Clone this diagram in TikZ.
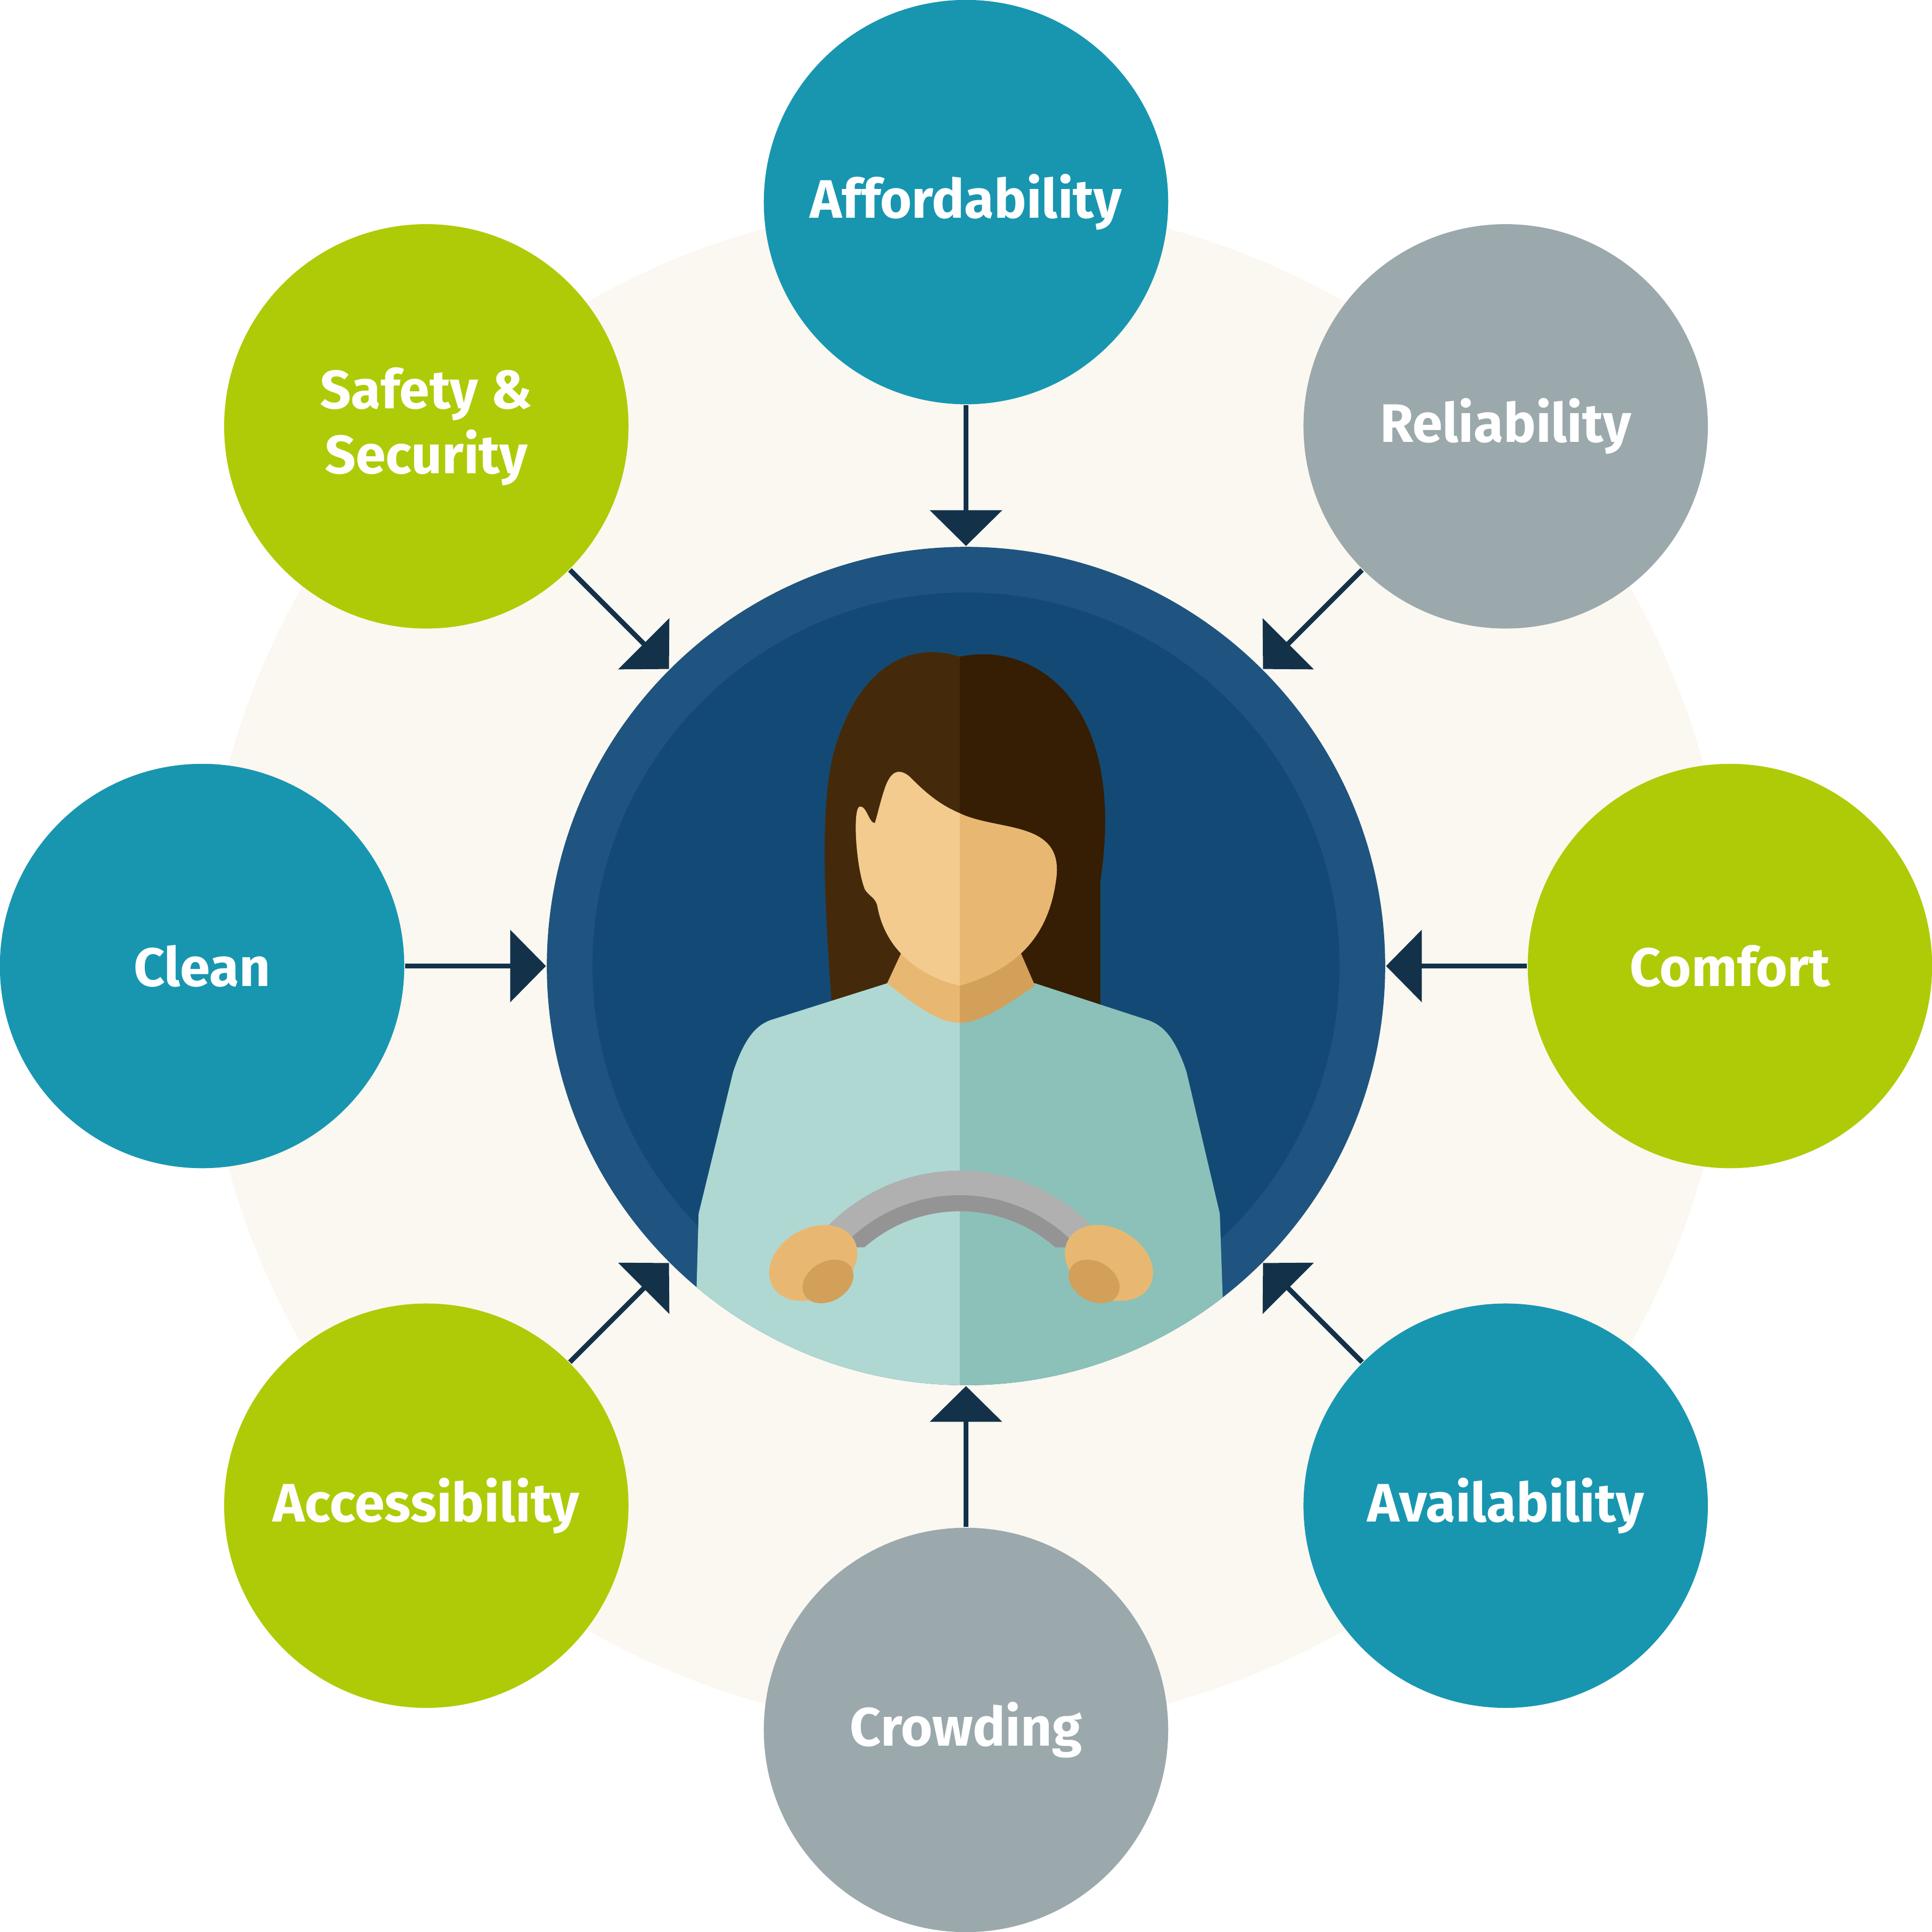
\documentclass[tikz,border=0pt]{standalone}
\usepackage{fontspec}
\setsansfont{Fira Sans}
\usetikzlibrary{arrows.meta}
\definecolor{bgcream}{HTML}{FAF8F0}
\definecolor{tealc}{HTML}{1896B0}
\definecolor{limec}{HTML}{AFCB08}
\definecolor{greyc}{HTML}{9BA9AD}
\definecolor{ringc}{HTML}{1F5480}
\definecolor{innerc}{HTML}{134A75}
\definecolor{arrowc}{HTML}{13324A}
\definecolor{hairl}{HTML}{442A0B}
\definecolor{hairr}{HTML}{351E04}
\definecolor{skinl}{HTML}{F3CB8F}
\definecolor{skinr}{HTML}{E8B872}
\definecolor{skind}{HTML}{D3A05A}
\definecolor{shirtl}{HTML}{AFD8D3}
\definecolor{shirtr}{HTML}{8BC1B8}
\definecolor{wheell}{HTML}{B0B0B0}
\definecolor{wheeld}{HTML}{949494}
\tikzset{
  factor/.style={circle, minimum size=3.28cm, inner sep=0pt, text=white,
    font=\sffamily\bfseries\fontsize{12.5}{15}\selectfont, align=center},
  link/.style={arrowc, line width=0.04cm,
    -{Triangle[length=0.29cm, width=0.58cm]}}
}
\begin{document}
\begin{tikzpicture}[x=0.01cm, y=-0.01cm]
\useasboundingbox (0,0) rectangle (1568,1568);
\fill[bgcream] (784,784) circle (6.2cm);

% centre
\node[circle, minimum size=6.8cm, inner sep=0pt, fill=ringc] (driver) at (784,784) {};
\fill[innerc] (784,784) circle (3.03cm);
\begin{scope}
\clip (784,784) circle (3.4cm);
% hair
\fill[hairl] (675,815) .. controls (668,720) and (665,640) .. (680,600)
  .. controls (700,540) and (740,520) .. (779,533)
  .. controls (840,520) and (915,570) .. (893,715) -- (893,815) -- cycle;
\begin{scope}
\clip (779,500) rectangle (950,900);
\fill[hairr] (675,815) .. controls (668,720) and (665,640) .. (680,600)
  .. controls (700,540) and (740,520) .. (779,533)
  .. controls (840,520) and (915,570) .. (893,715) -- (893,815) -- cycle;
\end{scope}
% shirt
\fill[shirtl] (563,1130) -- (567,985) -- (595,870) .. controls (605,840) and (615,832) .. (625,828)
  -- (720,798) -- (779,798) -- (779,1130) -- cycle;
\fill[shirtr] (995,1130) -- (990,985) -- (963,870) .. controls (953,840) and (943,832) .. (932,828)
  -- (840,798) -- (779,798) -- (779,1130) -- cycle;
% neck
\fill[skinr] (733,770) -- (720,798) .. controls (750,822) and (765,830) .. (779,830) -- (779,770) -- cycle;
\fill[skind] (827,770) -- (840,800) .. controls (808,822) and (793,830) .. (779,830) -- (779,770) -- cycle;
% face
\fill[skinl] (779,660) .. controls (760,652) and (748,640) .. (738,630)
  .. controls (728,622) and (722,628) .. (718,640) .. controls (714,652) and (712,662) .. (710,668)
  .. controls (705,668) and (703,652) .. (697,655) .. controls (692,660) and (695,705) .. (702,722)
  .. controls (706,728) and (710,728) .. (712,735) .. controls (718,770) and (745,792) .. (779,800) -- cycle;
\fill[skinr] (779,660) .. controls (810,675) and (865,665) .. (857,715)
  .. controls (850,765) and (820,788) .. (779,800) -- cycle;
% wheel
\begin{scope}
\clip (600,900) rectangle (960,1012);
\fill[wheell] (629,1100) arc (180:360:150) -- (896,1100) arc (360:180:117) -- cycle;
\fill[wheeld] (649,1100) arc (180:360:130) -- (896,1100) arc (360:180:117) -- cycle;
\end{scope}
% hands
\fill[skinr, rotate around={30:(660,1025)}] (660,1025) ellipse (0.38cm and 0.28cm);
\fill[skind, rotate around={30:(672,1040)}] (672,1040) ellipse (0.22cm and 0.16cm);
\fill[skinr, rotate around={-30:(900,1025)}] (900,1025) ellipse (0.38cm and 0.28cm);
\fill[skind, rotate around={-30:(888,1040)}] (888,1040) ellipse (0.22cm and 0.16cm);
\end{scope}

% factors
\node[factor, fill=tealc] (afford) at (784,164) {Affordability};
\node[factor, fill=greyc] (reliab) at (1222,346) {Reliability};
\node[factor, fill=limec] (comfort) at (1404,784) {Comfort};
\node[factor, fill=tealc] (avail) at (1222,1222) {Availability};
\node[factor, fill=greyc] (crowd) at (784,1404) {Crowding};
\node[factor, fill=limec] (access) at (346,1222) {Accessibility};
\node[factor, fill=tealc] (clean) at (164,784) {Clean};
\node[factor, fill=limec] (safety) at (346,346) {Safety \&\\Security};

% links
\foreach \f in {afford,reliab,comfort,avail,crowd,access,clean,safety}
  \draw[link] (\f) -- (driver);
\end{tikzpicture}
\end{document}
